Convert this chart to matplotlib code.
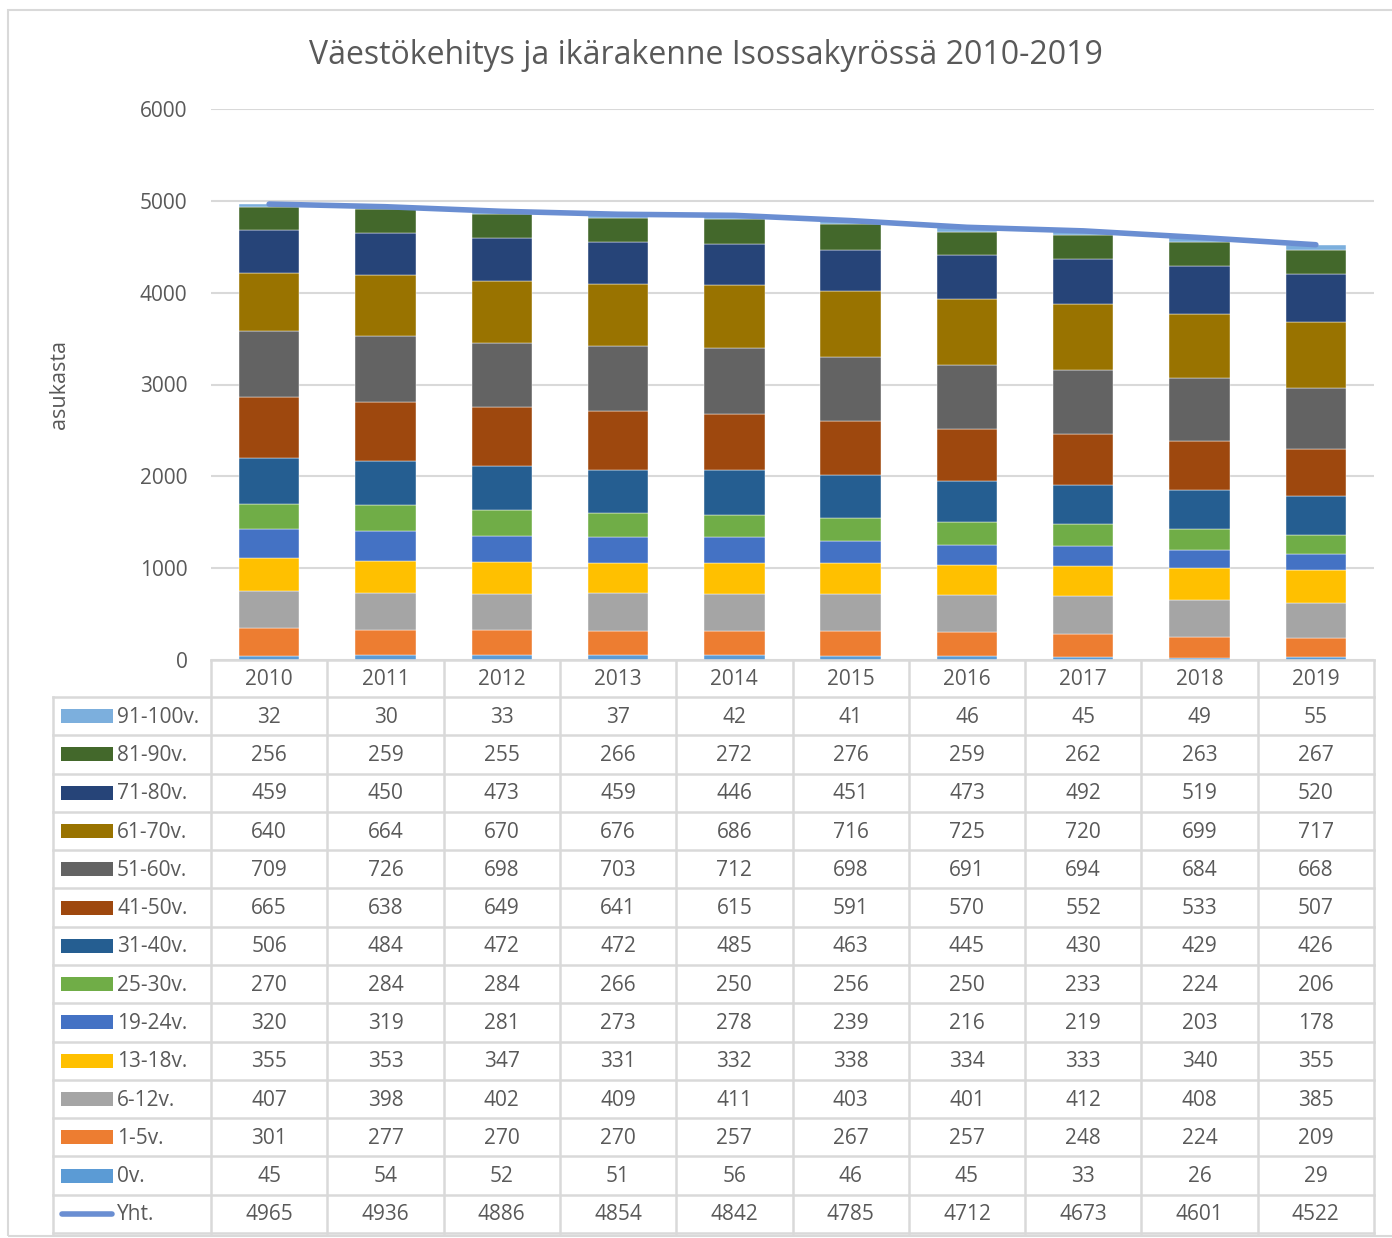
import matplotlib
matplotlib.use("Agg")
import matplotlib.pyplot as plt
import matplotlib.transforms as mtransforms
from matplotlib.patches import Rectangle
from matplotlib.lines import Line2D
import numpy as np

plt.rcParams['font.family'] = ['Open Sans', 'DejaVu Sans']

years = ["2010", "2011", "2012", "2013", "2014", "2015", "2016", "2017", "2018", "2019"]

v0 = [45, 54, 52, 51, 56, 46, 45, 33, 26, 29]
v1_5 = [301, 277, 270, 270, 257, 267, 257, 248, 224, 209]
v6_12 = [407, 398, 402, 409, 411, 403, 401, 412, 408, 385]
v13_18 = [355, 353, 347, 331, 332, 338, 334, 333, 340, 355]
v19_24 = [320, 319, 281, 273, 278, 239, 216, 219, 203, 178]
v25_30 = [270, 284, 284, 266, 250, 256, 250, 233, 224, 206]
v31_40 = [506, 484, 472, 472, 485, 463, 445, 430, 429, 426]
v41_50 = [665, 638, 649, 641, 615, 591, 570, 552, 533, 507]
v51_60 = [709, 726, 698, 703, 712, 698, 691, 694, 684, 668]
v61_70 = [640, 664, 670, 676, 686, 716, 725, 720, 699, 717]
v71_80 = [459, 450, 473, 459, 446, 451, 473, 492, 519, 520]
v81_90 = [256, 259, 255, 266, 272, 276, 259, 262, 263, 267]
v91_100 = [32, 30, 33, 37, 42, 41, 46, 45, 49, 55]
yht = [4965, 4936, 4886, 4854, 4842, 4785, 4712, 4673, 4601, 4522]

series_names = ["0v.", "1-5v.", "6-12v.", "13-18v.", "19-24v.", "25-30v.", "31-40v.",
                "41-50v.", "51-60v.", "61-70v.", "71-80v.", "81-90v.", "91-100v."]
series_vals = [v0, v1_5, v6_12, v13_18, v19_24, v25_30, v31_40,
               v41_50, v51_60, v61_70, v71_80, v81_90, v91_100]
series_colors = ["#5B9BD5", "#ED7D31", "#A5A5A5", "#FFC000", "#4472C4", "#70AD47", "#255E91",
                 "#9E480E", "#636363", "#997300", "#264478", "#43682B", "#7CAFDD"]
line_name = "Yht."
line_color = "#6A8ED2"

W, H = 1392, 1238
fig = plt.figure(figsize=(W / 100, H / 100), dpi=100)

def fx(px):
    return px / W

def fy(py):
    return 1 - py / H

text_color = "#595959"
grid_color = "#D9D9D9"
fs = 15

# outer border
fig.add_artist(Rectangle((fx(8), fy(1236)), fx(1400) - fx(8), fy(10) - fy(1236),
                         transform=fig.transFigure, fill=False, edgecolor="#D9D9D9", lw=1.5))

plot_left, plot_right, plot_top, plot_bottom = 211, 1374, 109, 660
ax = fig.add_axes([fx(plot_left), fy(plot_bottom), fx(plot_right) - fx(plot_left), fy(plot_top) - fy(plot_bottom)])

x = np.arange(len(years))
bottom = np.zeros(len(years))
for name, vals, col in zip(series_names, series_vals, series_colors):
    ax.bar(x, vals, width=0.52, bottom=bottom, color=col, label=name, zorder=3,
           edgecolor="white", linewidth=0.3)
    bottom += np.array(vals)
ax.plot(x, yht, color=line_color, lw=4, solid_capstyle="round", zorder=4)

ax.set_xlim(-0.5, len(years) - 0.5)
ax.set_ylim(0, 6000)
ax.set_yticks(range(0, 6001, 1000))
ax.set_yticklabels([str(v) for v in range(0, 6001, 1000)], fontsize=fs, color=text_color)
ax.tick_params(axis="y", length=0, pad=17)
ax.set_xticks([])
for s in ["top", "right", "left", "bottom"]:
    ax.spines[s].set_visible(False)
ax.grid(axis="y", color=grid_color, lw=1.5, zorder=0)
ax.set_axisbelow(True)

fig.text(fx(60), (fy(plot_top) + fy(plot_bottom)) / 2, "asukasta", rotation=90,
         ha="center", va="center", fontsize=15.5, color=text_color)

fig.text(fx(706), fy(56), "Väestökehitys ja ikärakenne Isossakyrössä 2010-2019",
         ha="center", va="center", fontsize=23, color=text_color)

# ---- data table ----
blend = mtransforms.blended_transform_factory(ax.transData, fig.transFigure)
table_left = 53
header_top, header_bottom = 660, 697
row_h = (1233 - 697) / 14.0
rows = [(n, v, c) for n, v, c in zip(series_names[::-1], series_vals[::-1], series_colors[::-1])]
rows.append((line_name, yht, line_color))

lw_t = 1.8
fig.add_artist(Line2D([fx(plot_left), fx(plot_right)], [fy(header_top), fy(header_top)],
                      transform=fig.transFigure, color=grid_color, lw=lw_t))
for b in np.arange(-0.5, len(years), 1.0):
    fig.add_artist(Line2D([b, b], [fy(header_top), fy(1233)], transform=blend, color=grid_color, lw=lw_t))
fig.add_artist(Line2D([fx(table_left), fx(table_left)], [fy(header_bottom), fy(1233)],
                      transform=fig.transFigure, color=grid_color, lw=lw_t))
for r in range(15):
    yy = header_bottom + r * row_h
    fig.add_artist(Line2D([fx(table_left), fx(plot_right)], [fy(yy), fy(yy)],
                          transform=fig.transFigure, color=grid_color, lw=lw_t))

for i, yr in enumerate(years):
    fig.text(i, fy((header_top + header_bottom) / 2 + 1), yr, transform=blend,
             ha="center", va="center", fontsize=fs, color=text_color)

for r, (name, vals, col) in enumerate(rows):
    yc = header_bottom + (r + 0.5) * row_h
    if name == line_name:
        fig.add_artist(Line2D([fx(62), fx(112)], [fy(yc), fy(yc)], transform=fig.transFigure,
                              color=col, lw=4, solid_capstyle="round"))
    else:
        fig.add_artist(Rectangle((fx(61), fy(yc + 7)), fx(113) - fx(61), fy(yc - 7) - fy(yc + 7),
                                 transform=fig.transFigure, facecolor=col, edgecolor="none"))
    fig.text(fx(117), fy(yc + 1), name, ha="left", va="center", fontsize=fs, color=text_color)
    for i, v in enumerate(vals):
        fig.text(i, fy(yc + 1), str(v), transform=blend, ha="center", va="center",
                 fontsize=fs, color=text_color)

fig.savefig("out.png", dpi=100)
